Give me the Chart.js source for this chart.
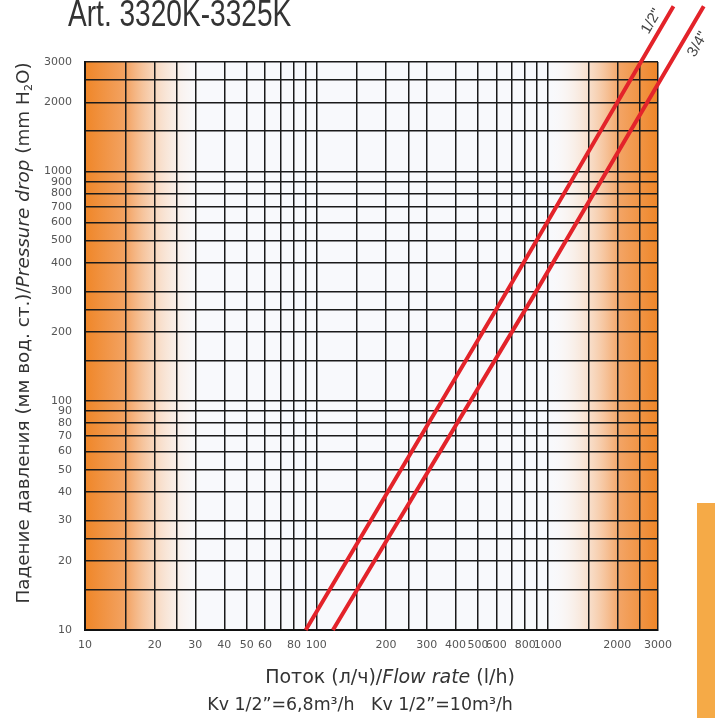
<!DOCTYPE html>
<html>
<head>
<meta charset="utf-8">
<script src="https://cdn.jsdelivr.net/npm/chart.js@4.4.1/dist/chart.umd.min.js"></script>
<style>
    html, body { margin: 0; padding: 0; background: #ffffff; }
    #wrap { position: relative; width: 715px; height: 718px; overflow: hidden; }
    #tab { position: absolute; left: 697px; top: 503px; width: 18px; height: 215px; background: #F5AA47; }
</style>
</head>
<body>
<div id="wrap">
    <canvas id="nomogram" width="715" height="718"></canvas>
    <div id="tab"></div>
</div>
<script>

// =====================================
// DATA
// =====================================

// grid lines (both axes use the same log grid)
const gridValues = [10, 15, 20, 25, 30, 40, 50, 60, 70, 80, 90, 100, 150, 200, 250, 300,
    400, 500, 600, 700, 800, 900, 1000, 1500, 2000, 2500, 3000];

const flowLabels = [10, 20, 30, 40, 50, 60, 80, 100, 200, 300, 400, 500, 600, 800, 1000, 2000, 3000];

const dropLabels = [10, 20, 30, 40, 50, 60, 70, 80, 90, 100, 200, 300, 400, 500, 600, 700, 800, 900,
    1000, 2000, 3000];

// 1/2" line (flow l/h, pressure drop mm H2O)
const flowHalf = [90, 640, 3500];
const dropHalf = [10, 280, 5250];

// 3/4" line
const flowThreeQuarter = [118, 850, 4730];
const dropThreeQuarter = [10, 276, 5250];

const seriesNames = ['1/2"', '3/4"'];

// =====================================
// STYLE
// =====================================

const textFont = "'DejaVu Sans', sans-serif";
const titleFont = "'Liberation Sans', Arial, sans-serif";
const tickFont = "'DejaVu Sans', sans-serif";
const orange = "#EF8628";
const lineRed = "#E3232A";

// =====================================
// HELPERS
// =====================================

function drawRich(ctx, parts, x, y, size) {
    let total = 0;
    parts.forEach(p => {
        ctx.font = (p.italic ? "italic " : "") + (p.sub ? size * 0.6 : size) + "px " + textFont;
        p.w = ctx.measureText(p.text).width;
        total += p.w;
    });
    let cx = x - total / 2;
    parts.forEach(p => {
        ctx.font = (p.italic ? "italic " : "") + (p.sub ? size * 0.6 : size) + "px " + textFont;
        ctx.fillText(p.text, cx, y + (p.sub ? size * 0.15 : 0));
        cx += p.w;
    });
}

// background: light panel with orange fades at both ends
const backgroundPlugin = {
    id: "nomogramBackground",
    beforeDraw(chart) {
        const { ctx, chartArea: a, scales: { x } } = chart;
        ctx.save();
        ctx.fillStyle = "#F8F9FC";
        ctx.fillRect(a.left, a.top, a.width, a.height);

        const leftEnd = x.getPixelForValue(33);
        let g = ctx.createLinearGradient(a.left, 0, leftEnd, 0);
        g.addColorStop(0, orange);
        g.addColorStop(0.35, "#F3A465");
        g.addColorStop(1, "rgba(255,255,255,0)");
        ctx.fillStyle = g;
        ctx.fillRect(a.left, a.top, leftEnd - a.left, a.height);

        const rightStart = x.getPixelForValue(1000);
        g = ctx.createLinearGradient(rightStart, 0, a.right, 0);
        g.addColorStop(0, "rgba(255,255,255,0)");
        g.addColorStop(0.65, "#F3A465");
        g.addColorStop(1, orange);
        ctx.fillStyle = g;
        ctx.fillRect(rightStart, a.top, a.right - rightStart, a.height);
        ctx.restore();
    }
};

// titles, axis captions and line names
const textPlugin = {
    id: "nomogramText",
    afterDraw(chart) {
        const ctx = chart.ctx;
        ctx.save();
        ctx.fillStyle = "#333333";
        ctx.textBaseline = "alphabetic";

        // main title (narrow, cut at the top edge)
        ctx.save();
        ctx.translate(68, 26);
        ctx.scale(0.78, 1);
        ctx.font = "36px " + titleFont;
        ctx.textAlign = "left";
        ctx.fillText("Art. 3320K-3325K", 0, 0);
        ctx.restore();

        drawRich(ctx, [
            { text: "Поток (л/ч)/" },
            { text: "Flow rate", italic: true },
            { text: " (l/h)" }
        ], 390, 683, 19);

        drawRich(ctx, [
            { text: "Kv 1/2”=6,8m³/h   Kv 1/2”=10m³/h" }
        ], 360, 710, 17.4);

        ctx.save();
        ctx.translate(29, 333);
        ctx.rotate(-Math.PI / 2);
        drawRich(ctx, [
            { text: "Падение давления (мм вод. ст.)/" },
            { text: "Pressure drop", italic: true },
            { text: " (mm H" },
            { text: "2", sub: true },
            { text: "O)" }
        ], 0, 0, 18.4);
        ctx.restore();

        // line names along the lines
        const offsets = [[-22, 15], [-6, 38]];
        chart.data.datasets.forEach((ds, i) => {
            const pts = chart.getDatasetMeta(i).data;
            const end = pts[pts.length - 1];
            ctx.save();
            ctx.translate(end.x + offsets[i][0], end.y + offsets[i][1]);
            ctx.rotate(-59.5 * Math.PI / 180);
            ctx.font = "15px " + titleFont;
            ctx.fillStyle = "#444444";
            ctx.textAlign = "center";
            ctx.textBaseline = "middle";
            ctx.fillText(ds.label, 0, 0);
            ctx.restore();
        });
        ctx.restore();
    }
};

// =====================================
// CHART
// =====================================

const ctx = document.getElementById("nomogram");

new Chart(ctx, {
    type: "scatter",
    data: {
        datasets: [
            {
                label: seriesNames[0],
                data: flowHalf.map((f, i) => ({ x: f, y: dropHalf[i] })),
                showLine: true,
                borderColor: lineRed,
                borderWidth: 4,
                pointRadius: 0,
                clip: false
            },
            {
                label: seriesNames[1],
                data: flowThreeQuarter.map((f, i) => ({ x: f, y: dropThreeQuarter[i] })),
                showLine: true,
                borderColor: lineRed,
                borderWidth: 4,
                pointRadius: 0,
                clip: false
            }
        ]
    },
    options: {
        responsive: false,
        animation: false,
        devicePixelRatio: 1,
        layout: {
            padding: { top: 62, right: 57, left: 0, bottom: 0 }
        },
        plugins: {
            legend: { display: false },
            tooltip: { enabled: false }
        },
        scales: {
            x: {
                type: "logarithmic",
                min: 10,
                max: 3000,
                afterBuildTicks: s => { s.ticks = gridValues.map(v => ({ value: v })); },
                afterFit: s => { s.height = 88; },
                ticks: {
                    autoSkip: false,
                    maxRotation: 0,
                    padding: 9,
                    color: "#555555",
                    font: { family: tickFont, size: 11 },
                    callback: v => flowLabels.includes(v) ? String(v) : ""
                },
                grid: { color: "#1a1a1a", lineWidth: 1.5, drawTicks: false },
                border: { color: "#111111", width: 2 }
            },
            y: {
                type: "logarithmic",
                min: 10,
                max: 3000,
                afterBuildTicks: s => { s.ticks = gridValues.map(v => ({ value: v })); },
                afterFit: s => { s.width = 85; },
                ticks: {
                    autoSkip: false,
                    padding: 13,
                    color: "#555555",
                    font: { family: tickFont, size: 11 },
                    callback: v => dropLabels.includes(v) ? String(v) : ""
                },
                grid: { color: "#1a1a1a", lineWidth: 1.5, drawTicks: false },
                border: { color: "#111111", width: 2 }
            }
        }
    },
    plugins: [backgroundPlugin, textPlugin]
});

</script>
</body>
</html>
